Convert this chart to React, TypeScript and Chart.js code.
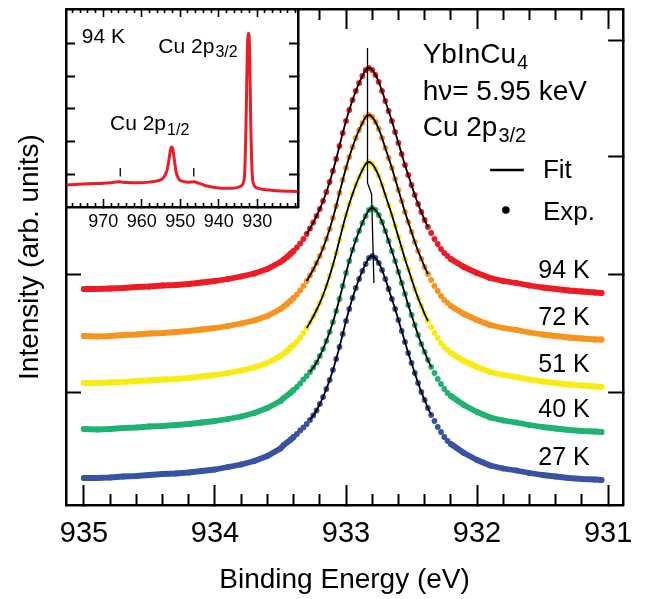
import React, { useEffect, useRef } from "react";
import { Chart, registerables } from "chart.js";
Chart.register(...registerables);

const FONT = '"Liberation Sans", Arial, Helvetica, sans-serif';

// ---------- main panel data ----------
const energies = [935.0, 934.9, 934.8, 934.7, 934.6, 934.5, 934.4, 934.3, 934.2, 934.1, 934.0, 933.9, 933.8, 933.7, 933.6, 933.5,
  933.475, 933.45, 933.425, 933.4, 933.375, 933.35, 933.325, 933.3, 933.275, 933.25, 933.225, 933.2, 933.175, 933.15, 933.125, 933.1,
  933.075, 933.05, 933.025, 933.0, 932.975, 932.95, 932.925, 932.9, 932.875, 932.85, 932.825, 932.8, 932.775, 932.75, 932.725, 932.7,
  932.675, 932.65, 932.625, 932.6, 932.575, 932.55, 932.525, 932.5, 932.475, 932.45, 932.425, 932.4, 932.375, 932.35, 932.325, 932.3,
  932.275, 932.25, 932.225, 932.2,
  932.1, 932.0, 931.9, 931.8, 931.7, 931.6, 931.5, 931.4, 931.3, 931.2, 931.1, 931.05];

const k94 = [216, 216, 216.5, 217, 218, 218.5, 219.5, 220, 221, 222.5, 224, 226, 228.5, 231.5, 236, 243,
  245.5, 248, 251, 254, 257.5, 261.5, 266, 271, 276.5, 282.5, 289, 296, 304, 313, 323, 334, 346, 359, 372, 384, 395, 405, 414, 422,
  429, 435, 437, 435, 430, 423, 414, 404, 394, 384, 373, 362, 351, 340, 330, 320, 310, 301, 293, 285, 278, 272, 266, 261, 256, 252, 249, 246,
  238, 232, 227, 224, 222, 219.5, 217.5, 216, 214.5, 213.5, 212.5, 212];

const k72 = [169, 168.5, 169, 170, 170.5, 171.5, 172, 173, 174, 175.5, 177, 179, 181.5, 184.5, 189, 196,
  198.5, 201, 204, 207, 210.5, 214.5, 219, 224, 229.5, 235.5, 242, 249, 257, 266, 276, 287, 299, 312, 325, 337, 348, 358, 367, 375,
  382, 388, 390, 388, 383, 376, 367, 357, 347, 337, 326, 315, 304, 293, 283, 273, 263, 254, 246, 238, 231, 225, 219, 214, 209, 205, 202, 199,
  191, 185, 180, 177, 175, 172.5, 170.5, 169, 167.5, 166.5, 165.5, 165.5];

const k51 = [122, 122, 122.5, 123, 124, 124.5, 125.5, 126, 127, 128.5, 130, 132, 134.5, 137.5, 142, 149,
  151.5, 154, 157, 160, 163.5, 167.5, 172, 177, 182.5, 188.5, 195, 202, 210, 219, 229, 240, 252, 265, 278, 290, 301, 311, 320, 328,
  335, 341, 343, 341, 336, 329, 320, 310, 300, 290, 279, 268, 257, 246, 236, 226, 216, 207, 199, 191, 184, 178, 172, 167, 162, 158, 155, 152,
  144, 138, 133, 130, 128, 125.5, 123.5, 122, 120.5, 119.5, 118.5, 118];

const k40 = [76, 75.5, 76, 77, 77.5, 78.5, 79, 80, 81, 82.5, 84, 86, 88.5, 92, 97, 104,
  107, 109.5, 112, 115, 118, 121.5, 125.5, 129, 133, 137.5, 142.5, 149, 156, 164, 173, 183, 194, 206, 219, 232, 244, 255, 265, 274,
  282, 289, 295, 297, 295, 290, 283, 274, 264, 254, 244, 233, 222, 211, 200, 190, 180, 170, 161, 153, 145, 138, 132, 126, 121, 116, 112, 109,
  100, 93, 87.5, 84.5, 82.5, 80, 78, 76.5, 75, 74, 73.5, 73];

const k27 = [27, 27, 27.5, 28.5, 29, 30, 31, 31.5, 32.5, 34, 35.5, 38, 40.5, 44, 49, 56.5,
  60, 62.5, 65, 68, 71, 74.5, 77.5, 81, 85, 89.5, 94.5, 101, 108, 116, 125, 135, 146, 158, 171, 184, 196, 207, 217, 226,
  234, 241, 247, 249, 247, 242, 235, 226, 216, 206, 196, 185, 174, 163, 152, 142, 132, 122, 113, 105, 97, 90, 84, 78, 73, 68, 64, 61,
  52, 45, 39.5, 36.5, 34.5, 32, 30, 28.5, 27, 26, 25.5, 25];

const tempLabels = ["94 K", "72 K", "51 K", "40 K", "27 K"];
const tempColors = ["#ed1c24", "#f7941d", "#f9ec14", "#1fb372", "#3953a4"];
const tempSeries = [k94, k72, k51, k40, k27];
const fitFrom = [933.3, 933.3, 933.3, 933.275, 933.275];
const fitTo = [932.375, 932.375, 932.375, 932.35, 932.35];

const peakLineE = [932.836, 932.836, 932.805, 932.787];
const peakLineV = [457, 322, 311, 222];

const xMajorTicks = [935, 934, 933, 932, 931];
const xMinorTicks = [934.8, 934.6, 934.4, 934.2, 933.8, 933.6, 933.4, 933.2, 932.8, 932.6, 932.4, 932.2, 931.8, 931.6, 931.4, 931.2];
const yTicks = [113, 230.5, 348, 465];

const infoText = ["YbInCu", "h\u03bd= 5.95 keV", "Cu 2p"];
const infoSub = ["4", "", "3/2"];
const infoV = [450, 413, 377];

// ---------- inset data ----------
const insetEnergies = [979.5, 977, 974, 971, 968, 966, 964, 961, 958, 956, 954.5, 953.5, 953.0, 952.6, 952.3, 952.0, 951.6, 951.1,
  950.4, 949.5, 948, 946.5, 945, 943, 940, 937, 935, 934, 933.3, 932.9, 932.6, 932.3, 932.0, 931.7, 931.3, 930.8, 930, 927, 924, 921, 919.5];
const insetIntensity = [0.67, 0.69, 0.71, 0.72, 0.74, 0.77, 0.75, 0.74, 0.76, 0.80, 0.88, 1.10, 1.40, 1.70, 1.83, 1.80, 1.50, 1.08,
  0.86, 0.79, 0.76, 0.77, 0.72, 0.64, 0.58, 0.57, 0.60, 0.66, 0.95, 2.6, 4.6, 5.31, 4.9, 2.7, 1.0, 0.66, 0.58, 0.52, 0.49, 0.48, 0.47];
const satelliteE = [965.6, 946.5];
const satelliteV = [0.93, 1.19];
const insetMajorTicks = [970, 960, 950, 940, 930];
const insetMinorTicks = [978, 976, 974, 972, 968, 966, 964, 962, 958, 956, 954, 952, 948, 946, 944, 942, 938, 936, 934, 932, 928, 926, 924, 922, 920];
const insetYTicks = [1, 2, 3, 4, 5];

const TAIL_HI = 933.4;
const TAIL_LO = 932.2;
const isTail = (e: number) => e >= TAIL_HI - 1e-6 || e <= TAIL_LO + 1e-6;

function drawSub(ctx: CanvasRenderingContext2D, main: string, sub: string, x: number, y: number, size: number, subSize: number, dy: number) {
  ctx.font = `${size}px ${FONT}`;
  ctx.fillText(main, x, y);
  if (sub) {
    const w = ctx.measureText(main).width;
    ctx.font = `${subSize}px ${FONT}`;
    ctx.fillText(sub, x + w + 1, y + dy);
  }
}

const tickSetter = (list: number[]) => (s: any) => {
  s.ticks = list.map((v) => ({ value: v }));
};

function mainConfig(): any {
  const datasets: any[] = [];
  tempSeries.forEach((vals, i) => {
    const color = tempColors[i];
    const pts = energies.map((e, k) => ({ x: e, y: vals[k] }));
    datasets.push({
      data: pts.filter((p) => p.x <= fitFrom[i] + 1e-6 && p.x >= fitTo[i] - 1e-6),
      showLine: true,
      borderColor: "#000",
      borderWidth: 1.8,
      pointRadius: 0,
      cubicInterpolationMode: "monotone",
      order: 0,
    });
    datasets.push({
      data: pts,
      showLine: true,
      borderColor: color,
      borderWidth: 5.8,
      borderCapStyle: "round",
      borderJoinStyle: "round",
      segment: {
        borderColor: (ctx: any) => (isTail(ctx.p0.parsed.x) && isTail(ctx.p1.parsed.x) ? color : "rgba(0,0,0,0)"),
      },
      pointRadius: 2.9,
      pointBackgroundColor: color,
      pointBorderWidth: 0,
      order: 2,
    });
  });
  datasets.push({
    data: peakLineE.map((e, k) => ({ x: e, y: peakLineV[k] })),
    showLine: true,
    borderColor: "#000",
    borderWidth: 1.3,
    pointRadius: 0,
    order: 0,
  });

  const textPlugin = {
    id: "mainText",
    afterDatasetsDraw(chart: any) {
      const { ctx } = chart;
      const x = chart.scales.x;
      const y = chart.scales.y;
      ctx.save();
      ctx.fillStyle = "#000";
      ctx.textBaseline = "middle";
      ctx.textAlign = "left";
      const ax = x.getPixelForValue(932.415);
      infoText.forEach((t, i) => drawSub(ctx, t, infoSub[i], ax, y.getPixelForValue(infoV[i]), 28, 20, 8));
      // legend
      ctx.strokeStyle = "#000";
      ctx.lineWidth = 2.5;
      ctx.beginPath();
      ctx.moveTo(x.getPixelForValue(931.9), y.getPixelForValue(335));
      ctx.lineTo(x.getPixelForValue(931.643), y.getPixelForValue(335));
      ctx.stroke();
      ctx.beginPath();
      ctx.arc(x.getPixelForValue(931.78), y.getPixelForValue(295), 3.8, 0, Math.PI * 2);
      ctx.fill();
      ctx.font = `26px ${FONT}`;
      ctx.fillText("Fit", x.getPixelForValue(931.497), y.getPixelForValue(334));
      ctx.fillText("Exp.", x.getPixelForValue(931.497), y.getPixelForValue(292));
      // temperature labels
      ctx.textAlign = "right";
      ctx.font = `25px ${FONT}`;
      tempSeries.forEach((vals, i) => {
        ctx.fillText(tempLabels[i], x.getPixelForValue(931.14), y.getPixelForValue(vals[vals.length - 1] + 21.5));
      });
      ctx.restore();
    },
  };

  const black = "#000";
  return {
    type: "scatter",
    data: { datasets },
    plugins: [textPlugin],
    options: {
      responsive: false,
      animation: false,
      devicePixelRatio: 1,
      events: [],
      layout: { padding: { left: 0, right: 20, top: 9, bottom: 0 } },
      plugins: { legend: { display: false }, tooltip: { enabled: false } },
      scales: {
        x: {
          type: "linear", position: "bottom", reverse: true, min: 930.885, max: 935.137, weight: 1,
          afterBuildTicks: tickSetter(xMajorTicks),
          afterFit: (s: any) => { s.height = 94; },
          ticks: { autoSkip: false, maxRotation: 0, padding: 31.6, color: black, font: { family: FONT, size: 29 } },
          grid: { drawOnChartArea: false, drawTicks: true, tickLength: -20, tickWidth: 2, tickColor: black },
          border: { display: true, color: black, width: 2.5 },
          title: { display: true, text: "Binding Energy (eV)", color: black, font: { family: FONT, size: 28 }, padding: { top: 0, bottom: 2 } },
        },
        xMinor: {
          type: "linear", position: "bottom", reverse: true, min: 930.885, max: 935.137, weight: 0,
          afterBuildTicks: tickSetter(xMinorTicks),
          afterFit: (s: any) => { s.height = 0; },
          ticks: { display: false, autoSkip: false },
          grid: { drawOnChartArea: false, drawTicks: true, tickLength: -11, tickWidth: 2, tickColor: black },
          border: { display: false },
        },
        xTop: {
          type: "linear", position: "top", reverse: true, min: 930.885, max: 935.137, weight: 1,
          afterBuildTicks: tickSetter(xMajorTicks),
          afterFit: (s: any) => { s.height = 0; },
          ticks: { display: false, autoSkip: false },
          grid: { drawOnChartArea: false, drawTicks: true, tickLength: -20, tickWidth: 2, tickColor: black },
          border: { display: true, color: black, width: 2.5 },
        },
        xTopMinor: {
          type: "linear", position: "top", reverse: true, min: 930.885, max: 935.137, weight: 0,
          afterBuildTicks: tickSetter(xMinorTicks),
          afterFit: (s: any) => { s.height = 0; },
          ticks: { display: false, autoSkip: false },
          grid: { drawOnChartArea: false, drawTicks: true, tickLength: -11, tickWidth: 2, tickColor: black },
          border: { display: false },
        },
        y: {
          type: "linear", position: "left", min: 0, max: 496,
          afterBuildTicks: tickSetter(yTicks),
          afterFit: (s: any) => { s.width = 66; },
          ticks: { display: false },
          grid: { drawOnChartArea: false, drawTicks: true, tickLength: -15, tickWidth: 2, tickColor: black },
          border: { display: true, color: black, width: 2.5 },
          title: { display: true, text: "Intensity (arb. units)", color: black, font: { family: FONT, size: 28 }, padding: { top: 13, bottom: 0 } },
        },
        yRight: {
          type: "linear", position: "right", min: 0, max: 496,
          afterBuildTicks: tickSetter(yTicks),
          afterFit: (s: any) => { s.width = 0; },
          ticks: { display: false },
          grid: { drawOnChartArea: false, drawTicks: true, tickLength: -15, tickWidth: 2, tickColor: black },
          border: { display: true, color: black, width: 2.5 },
        },
      },
    },
  };
}

function insetConfig(): any {
  const black = "#000";
  const datasets: any[] = [
    {
      data: insetEnergies.map((e, k) => ({ x: e, y: insetIntensity[k] })),
      showLine: true,
      borderColor: "#ed1c24",
      borderWidth: 3,
      pointRadius: 0,
      cubicInterpolationMode: "monotone",
      xAxisID: "ix",
      yAxisID: "iy",
    },
    ...satelliteE.map((e) => ({
      data: satelliteV.map((v) => ({ x: e, y: v })),
      showLine: true,
      borderColor: black,
      borderWidth: 1.3,
      pointRadius: 0,
      xAxisID: "ix",
      yAxisID: "iy",
    })),
  ];
  const bg = {
    id: "insetBg",
    beforeDraw(chart: any) {
      const { ctx, chartArea } = chart;
      ctx.save();
      ctx.fillStyle = "#fff";
      ctx.fillRect(chartArea.left, chartArea.top, chartArea.right - chartArea.left, chartArea.bottom - chartArea.top);
      ctx.restore();
    },
    afterDatasetsDraw(chart: any) {
      const { ctx } = chart;
      const x = chart.scales.ix;
      const y = chart.scales.iy;
      ctx.save();
      ctx.fillStyle = black;
      ctx.textBaseline = "middle";
      ctx.textAlign = "left";
      ctx.font = `21px ${FONT}`;
      ctx.fillText("94 K", x.getPixelForValue(975.6), y.getPixelForValue(5.2));
      drawSub(ctx, "Cu 2p", "3/2", x.getPixelForValue(955.7), y.getPixelForValue(4.89), 21, 16, 6);
      drawSub(ctx, "Cu 2p", "1/2", x.getPixelForValue(968.26), y.getPixelForValue(2.53), 21, 16, 6);
      ctx.restore();
    },
  };
  const common = { type: "linear", reverse: true, min: 919.4, max: 979.7 };
  return {
    type: "scatter",
    data: { datasets },
    plugins: [bg],
    options: {
      responsive: false,
      animation: false,
      devicePixelRatio: 1,
      events: [],
      layout: { padding: { left: 6, right: 7, top: 6, bottom: 0 } },
      plugins: { legend: { display: false }, tooltip: { enabled: false } },
      scales: {
        ix: {
          ...common, position: "bottom", weight: 1,
          afterBuildTicks: tickSetter(insetMajorTicks),
          afterFit: (s: any) => { s.height = 36; },
          ticks: { autoSkip: false, maxRotation: 0, padding: 12, color: black, font: { family: FONT, size: 18 } },
          grid: { drawOnChartArea: false, drawTicks: true, tickLength: -8, tickWidth: 1.6, tickColor: black },
          border: { display: true, color: black, width: 2.5 },
        },
        ixMinor: {
          ...common, position: "bottom", weight: 0,
          afterBuildTicks: tickSetter(insetMinorTicks),
          afterFit: (s: any) => { s.height = 0; },
          ticks: { display: false, autoSkip: false },
          grid: { drawOnChartArea: false, drawTicks: true, tickLength: -4, tickWidth: 1.6, tickColor: black },
          border: { display: false },
        },
        ixTop: {
          ...common, position: "top", weight: 1,
          afterBuildTicks: tickSetter(insetMajorTicks),
          afterFit: (s: any) => { s.height = 0; },
          ticks: { display: false, autoSkip: false },
          grid: { drawOnChartArea: false, drawTicks: true, tickLength: -8, tickWidth: 1.6, tickColor: black },
          border: { display: true, color: black, width: 2.5 },
        },
        ixTopMinor: {
          ...common, position: "top", weight: 0,
          afterBuildTicks: tickSetter(insetMinorTicks),
          afterFit: (s: any) => { s.height = 0; },
          ticks: { display: false, autoSkip: false },
          grid: { drawOnChartArea: false, drawTicks: true, tickLength: -4, tickWidth: 1.6, tickColor: black },
          border: { display: false },
        },
        iy: {
          type: "linear", position: "left", min: 0, max: 6.05,
          afterBuildTicks: tickSetter(insetYTicks),
          afterFit: (s: any) => { s.width = 0; },
          ticks: { display: false },
          grid: { drawOnChartArea: false, drawTicks: true, tickLength: -9, tickWidth: 2, tickColor: black },
          border: { display: true, color: black, width: 2.5 },
        },
        iyRight: {
          type: "linear", position: "right", min: 0, max: 6.05,
          afterBuildTicks: tickSetter(insetYTicks),
          afterFit: (s: any) => { s.width = 0; },
          ticks: { display: false },
          grid: { drawOnChartArea: false, drawTicks: true, tickLength: -9, tickWidth: 2, tickColor: black },
          border: { display: true, color: black, width: 2.5 },
        },
      },
    },
  };
}

export default function App() {
  const mainRef = useRef<HTMLCanvasElement>(null);
  const insetRef = useRef<HTMLCanvasElement>(null);
  useEffect(() => {
    const main = new Chart(mainRef.current as HTMLCanvasElement, mainConfig());
    const inset = new Chart(insetRef.current as HTMLCanvasElement, insetConfig());
    return () => {
      main.destroy();
      inset.destroy();
    };
  }, []);
  return (
    <div style={{ position: "absolute", left: 0, top: 0, width: 665, height: 599, background: "#fff" }}>
      <canvas ref={mainRef} width={665} height={599} style={{ position: "absolute", left: 0, top: 0 }} />
      <canvas ref={insetRef} width={245} height={240} style={{ position: "absolute", left: 60, top: 3 }} />
    </div>
  );
}
